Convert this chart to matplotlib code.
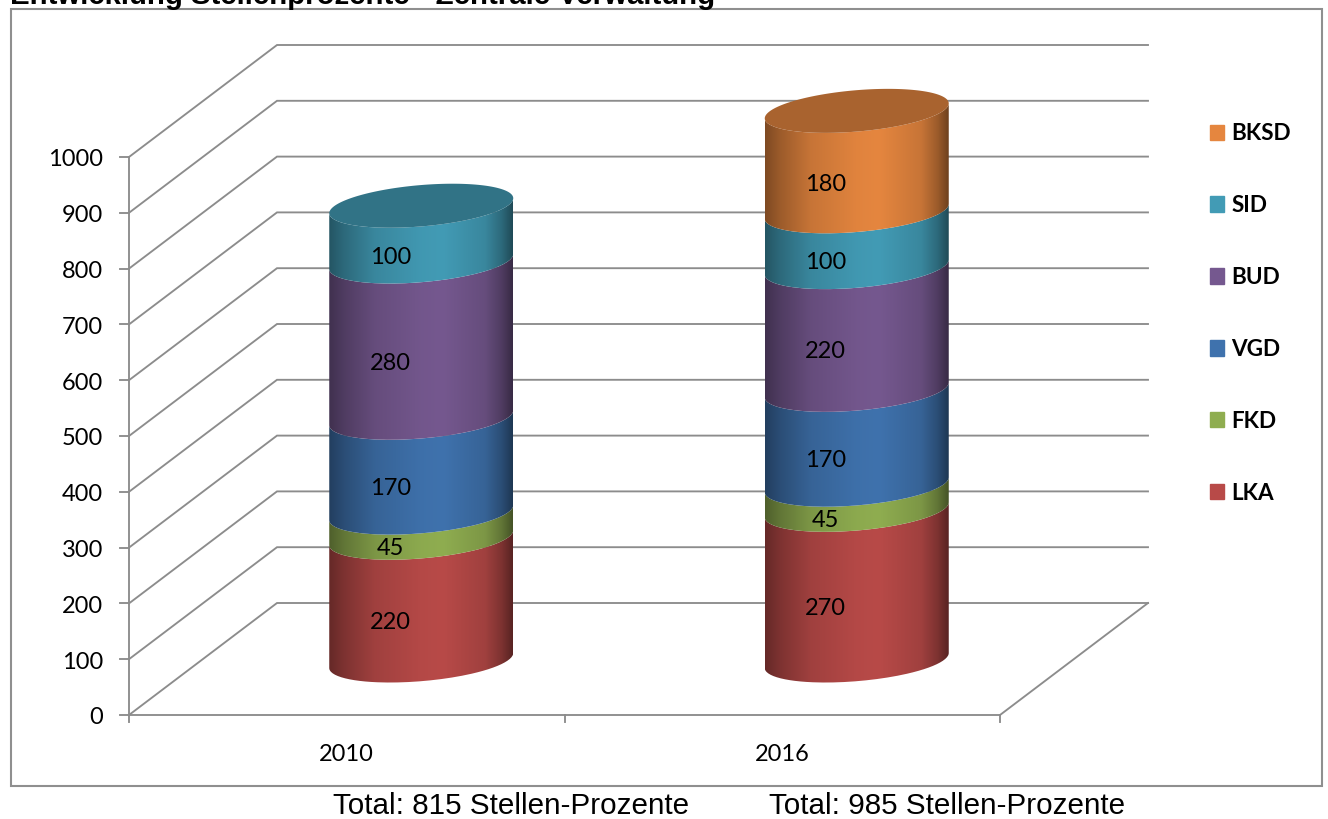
#!/usr/bin/env python3

from __future__ import annotations

import matplotlib

matplotlib.use("Agg")

import matplotlib.pyplot as plt
import numpy as np
from matplotlib.colors import LinearSegmentedColormap, to_rgb
from matplotlib.patches import Patch, PathPatch, Rectangle
from matplotlib.path import Path as MplPath


YEARS = ["2010", "2016"]
SERIES = ["LKA", "FKD", "VGD", "BUD", "SID", "BKSD"]
VALUES_2010 = [220, 45, 170, 280, 100, 0]
VALUES_2016 = [270, 45, 170, 220, 100, 180]
COLORS = ["#B84A48", "#8FAD50", "#3F72AD", "#75588F", "#429BB5", "#E5863F"]
Y_TICKS = [0, 100, 200, 300, 400, 500, 600, 700, 800, 900, 1000]
TITLE = "Entwicklung Stellenprozente - Zentrale Verwaltung"
TOTALS = ["Total: 815 Stellen-Prozente", "Total: 985 Stellen-Prozente"]

WIDTH_PX, HEIGHT_PX = 1328, 819
PX_PER_CAT = 435.5
PX_PER_VAL = 0.558
X0_PX, Y0_PX = 129.0, 715.0

DEPTH_X = 148.0 / PX_PER_CAT
DEPTH_Y = 112.0 / PX_PER_VAL
CYL_DX = 74.5 / PX_PER_CAT
CYL_DY = 54.5 / PX_PER_VAL
CYL_A = 92.0 / PX_PER_CAT
CYL_B = 20.7 / PX_PER_VAL
CYL_TILT = 7.5 / PX_PER_VAL
LABEL_DX = 43.5 / PX_PER_CAT
LABEL_DROP = 23.5 / PX_PER_VAL
TICK_DROP = 3.0 / PX_PER_VAL

GRID_COLOR = "#8c8c8c"
GRID_LW = 1.35
SHADE_POS = [0.0, 0.08, 0.25, 0.5, 0.62, 0.85, 0.94, 1.0]
SHADE_VAL = [0.55, 0.68, 0.87, 0.98, 1.0, 0.87, 0.68, 0.48]
TOP_SHADE = 0.74


def shade_map(color: str) -> LinearSegmentedColormap:
    rgb = np.array(to_rgb(color))
    stops = [(pos, tuple(rgb * val)) for pos, val in zip(SHADE_POS, SHADE_VAL)]
    return LinearSegmentedColormap.from_list("shade", stops)


def ellipse_points(cx: float, cy: float, t: np.ndarray) -> tuple[np.ndarray, np.ndarray]:
    return cx + CYL_A * np.cos(t), cy + CYL_B * np.sin(t) + CYL_TILT * np.cos(t)


def draw_segment(ax, cx: float, bottom: float, top: float, color: str) -> None:
    t = np.linspace(np.pi, 2 * np.pi, 80)
    xb, yb = ellipse_points(cx, bottom, t)
    xt, yt = ellipse_points(cx, top, t[::-1])
    vertices = np.column_stack([np.r_[xb, xt], np.r_[yb, yt]])
    clip = PathPatch(MplPath(np.vstack([vertices, vertices[0]])), transform=ax.transData, fc="none", ec="none")
    ax.add_patch(clip)

    gradient = np.linspace(0, 1, 256).reshape(1, -1)
    image = ax.imshow(
        gradient,
        cmap=shade_map(color),
        extent=(cx - CYL_A, cx + CYL_A, bottom - 60, top + 60),
        aspect="auto",
        interpolation="bilinear",
        zorder=3,
    )
    image.set_clip_path(clip)


def draw_cylinder(ax, index: int, values: list[int]) -> None:
    cx = index + CYL_DX
    base = CYL_DY
    for value, color in zip(values, COLORS):
        if value == 0:
            continue
        draw_segment(ax, cx, base, base + value, color)
        ax.text(
            index + LABEL_DX,
            base + value / 2 - LABEL_DROP,
            str(value),
            fontsize=17,
            ha="center",
            va="center",
            color="black",
            zorder=5,
        )
        base += value
        last_color = color

    t = np.linspace(0, 2 * np.pi, 160)
    xe, ye = ellipse_points(cx, base, t)
    ax.fill(xe, ye, color=tuple(np.array(to_rgb(last_color)) * TOP_SHADE), lw=0, zorder=4)


def draw_walls(ax) -> None:
    left = -0.5
    right = left + len(YEARS)
    for tick in Y_TICKS:
        ax.plot(
            [left, left + DEPTH_X, right + DEPTH_X],
            [tick, tick + DEPTH_Y, tick + DEPTH_Y],
            color=GRID_COLOR,
            lw=GRID_LW,
            zorder=1,
            solid_joinstyle="miter",
        )
        ax.plot([left - 9 / PX_PER_CAT, left], [tick, tick], color=GRID_COLOR, lw=GRID_LW, zorder=1)
        ax.text(left - 26 / PX_PER_CAT, tick - TICK_DROP, str(tick), fontsize=17, ha="right", va="center", zorder=5)

    ax.plot([left, left], [Y_TICKS[0], Y_TICKS[-1]], color=GRID_COLOR, lw=GRID_LW, zorder=1)
    ax.plot([left, right], [0, 0], color=GRID_COLOR, lw=GRID_LW, zorder=1)
    ax.plot([right, right + DEPTH_X], [0, DEPTH_Y], color=GRID_COLOR, lw=GRID_LW, zorder=1)

    for k in range(len(YEARS) + 1):
        ax.plot([left + k, left + k], [0, -7 / PX_PER_VAL], color=GRID_COLOR, lw=GRID_LW, zorder=1)
    for k, year in enumerate(YEARS):
        ax.text(k, -70, year, fontsize=17, ha="center", va="center", zorder=5)


def make_chart(output_path: str) -> None:
    fig = plt.figure(figsize=(WIDTH_PX / 100, HEIGHT_PX / 100), dpi=100, facecolor="white")
    ax = fig.add_axes([0, 0, 1, 1])
    ax.axis("off")

    draw_walls(ax)
    draw_cylinder(ax, 0, VALUES_2010)
    draw_cylinder(ax, 1, VALUES_2016)

    ax.set_xlim(-0.5 - X0_PX / PX_PER_CAT, -0.5 + (WIDTH_PX - X0_PX) / PX_PER_CAT)
    ax.set_ylim((Y0_PX - HEIGHT_PX) / PX_PER_VAL, Y0_PX / PX_PER_VAL)

    fig.add_artist(
        Rectangle(
            (11 / WIDTH_PX, 1 - 786 / HEIGHT_PX),
            (1322 - 11) / WIDTH_PX,
            (786 - 9) / HEIGHT_PX,
            transform=fig.transFigure,
            fc="none",
            ec="#8f8f8f",
            lw=1.5,
        )
    )

    handles = [Patch(color=c, label=s) for s, c in zip(SERIES[::-1], COLORS[::-1])]
    ax.legend(
        handles=handles,
        loc="upper left",
        bbox_to_anchor=(1209.5 / WIDTH_PX, 1 - 123 / HEIGHT_PX),
        bbox_transform=fig.transFigure,
        frameon=False,
        prop={"family": "Lato", "weight": "bold", "size": 16.2},
        handlelength=0.66,
        handleheight=0.66,
        handletextpad=0.31,
        labelspacing=2.264,
        borderpad=0,
        borderaxespad=0,
    )

    fig.text(10 / WIDTH_PX, 1 - 4 / HEIGHT_PX, TITLE, family="Liberation Sans", weight="bold",
             fontsize=21.2, ha="left", va="baseline")
    fig.text(333 / WIDTH_PX, 1 - 814 / HEIGHT_PX, TOTALS[0], family="Liberation Sans", fontsize=21.3, ha="left", va="baseline")
    fig.text(769 / WIDTH_PX, 1 - 814 / HEIGHT_PX, TOTALS[1], family="Liberation Sans", fontsize=21.3, ha="left", va="baseline")

    fig.savefig(output_path, dpi=100)
    plt.close(fig)


def main() -> None:
    plt.rcParams["font.family"] = ["Lato", "DejaVu Sans"]
    make_chart("out.png")


if __name__ == "__main__":
    main()
